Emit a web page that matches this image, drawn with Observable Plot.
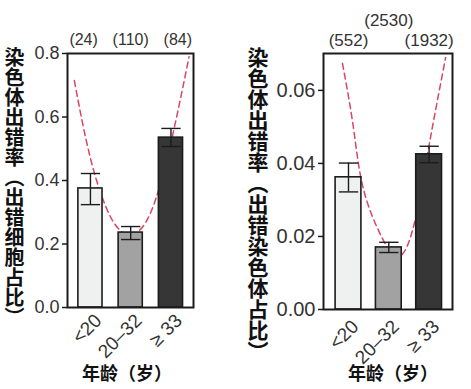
<!DOCTYPE html>
<html><head><meta charset="utf-8">
<script src="https://cdn.jsdelivr.net/npm/d3@7"></script>
<script src="https://cdn.jsdelivr.net/npm/@observablehq/plot@0.6"></script>
<style>
body{margin:0;background:#fff;}
#wrap{position:relative;width:471px;height:389px;overflow:hidden;background:#fff}
.panel{position:absolute;top:0}
.ylab{position:absolute;writing-mode:vertical-rl;font-family:"Noto Sans CJK SC";font-weight:bold;line-height:1;color:#111;white-space:nowrap}
.xlab{position:absolute;font-family:"Noto Sans CJK SC";font-weight:bold;color:#111;line-height:1;transform:translateX(-50%);white-space:nowrap}
</style></head><body><div id="wrap"></div>
<script>
// categories
const cats = ["<20", "20–32", "≥ 33"];
const idx = [0, 1, 2];

// left panel: aneuploidy rate (fraction of cells with errors)
const leftN = ["(24)", "(110)", "(84)"];
const leftMean = [0.375, 0.236, 0.535];
const leftLo = [0.324, 0.214, 0.507];
const leftHi = [0.422, 0.255, 0.564];
const leftFitX = [-0.4, 0, 0.5, 1, 1.5, 2, 2.45];
const leftFitY = [0.715, 0.47, 0.285, 0.23, 0.30, 0.52, 0.79];
const leftTicks = [0, 0.2, 0.4, 0.6, 0.8];

// right panel: aneuploidy rate (fraction of chromosomes with errors)
const rightN = ["(552)", "(2530)", "(1932)"];
const rightMean = [0.0362, 0.0170, 0.0425];
const rightLo = [0.0322, 0.0156, 0.0402];
const rightHi = [0.0401, 0.0184, 0.0447];
const rightFitX = [-0.15, 0.12, 0.37, 0.84, 1.25, 1.62, 1.99, 2.41];
const rightFitY = [0.0674, 0.050, 0.033, 0.0195, 0.0145, 0.023, 0.0444, 0.069];
const rightTicks = [0, 0.02, 0.04, 0.06];

const fills = ["#eff1f1", "#a2a2a2", "#363636"];
const ink = "#1c1c1c";

function panel(o) {
  const bars = idx.map(i => ({i, n: o.n[i], mean: o.mean[i], lo: o.lo[i], hi: o.hi[i]}));
  const fit = o.fitX.map((x, k) => ({x, y: o.fitY[k]}));
  const hw = o.hw;
  return Plot.plot({
    width: o.w, height: 389,
    marginLeft: o.ml, marginRight: o.mr, marginTop: 53, marginBottom: o.mb,
    x: {domain: o.xDomain, axis: null},
    y: {domain: o.yDomain, axis: null},
    color: {type: "identity"},
    style: {fontFamily: "'Liberation Sans', Arial, sans-serif", color: "#333", background: "transparent", overflow: "visible"},
    marks: [
      Plot.line(fit, {x: "x", y: "y", curve: "natural", stroke: "#d8475f", strokeWidth: 1.5, strokeDasharray: "6,4", clip: true}),
      Plot.rect(bars, {x1: d => d.i - hw, x2: d => d.i + hw, y1: 0, y2: "mean", fill: d => fills[d.i], stroke: ink, strokeWidth: 1.6}),
      Plot.ruleX(bars, {x: "i", y1: "lo", y2: "hi", stroke: ink, strokeWidth: 1.4}),
      Plot.link(bars, {x1: d => d.i - 0.24, x2: d => d.i + 0.24, y1: "hi", y2: "hi", stroke: ink, strokeWidth: 1.4}),
      Plot.link(bars, {x1: d => d.i - 0.24, x2: d => d.i + 0.24, y1: "lo", y2: "lo", stroke: ink, strokeWidth: 1.4}),
      Plot.frame({stroke: ink, strokeWidth: 2}),
      Plot.axisY({ticks: o.ticks, tickFormat: o.fmt, tickSize: 5, tickPadding: 3, fontSize: o.tickFont, stroke: ink, strokeWidth: 1.5}),
      Plot.axisX({ticks: idx, tickFormat: i => cats[i], tickRotate: -45, tickSize: 0, tickPadding: 2, dx: o.xdx, dy: o.xdy, fontSize: 19}),
      Plot.text(bars.filter(o.lowLabel), {x: d => d.i + (d.i - 1) * o.spread, text: "n", frameAnchor: "top", dy: -20, fontSize: o.countFont, fill: "#333"}),
      Plot.text(bars.filter(d => !o.lowLabel(d)), {x: "i", text: "n", frameAnchor: "top", dy: -40, fontSize: o.countFont, fill: "#333"})
    ]
  });
}

const wrap = document.getElementById("wrap");

const left = panel({
  w: 235, ml: 67, mr: 42, mb: 82, hw: 0.3,
  xDomain: [-0.57, 2.56], yDomain: [0, 0.8],
  n: leftN, mean: leftMean, lo: leftLo, hi: leftHi, fitX: leftFitX, fitY: leftFitY,
  ticks: leftTicks, fmt: d3.format(".1f"), tickFont: 18, countFont: 16, spread: 0.17,
  xdx: 8, xdy: 8,
  lowLabel: d => true
});
left.classList.add("panel");
left.style.left = "0px";
wrap.appendChild(left);

const right = panel({
  w: 236, ml: 88, mr: 19, mb: 80, hw: 0.32,
  xDomain: [-0.62, 2.58], yDomain: [0, 0.0701],
  n: rightN, mean: rightMean, lo: rightLo, hi: rightHi, fitX: rightFitX, fitY: rightFitY,
  ticks: rightTicks, fmt: d3.format(".2f"), tickFont: 20, countFont: 17, spread: 0,
  xdx: 7, xdy: 12,
  lowLabel: d => d.i !== 1
});
right.classList.add("panel");
right.style.left = "235px";
wrap.appendChild(right);

function addDiv(cls, text, css) {
  const d = document.createElement("div");
  d.className = cls;
  d.textContent = text;
  Object.assign(d.style, css);
  wrap.appendChild(d);
}
addDiv("ylab", "染色体出错率（出错细胞占比）", {left: "4px", top: "47px", fontSize: "20px"});
addDiv("ylab", "染色体出错率（出错染色体占比）", {left: "247px", top: "47px", fontSize: "21px"});
addDiv("xlab", "年龄（岁）", {left: "127px", top: "363px", fontSize: "18px"});
addDiv("xlab", "年龄（岁）", {left: "393px", top: "363px", fontSize: "18px"});
</script>
</body></html>
